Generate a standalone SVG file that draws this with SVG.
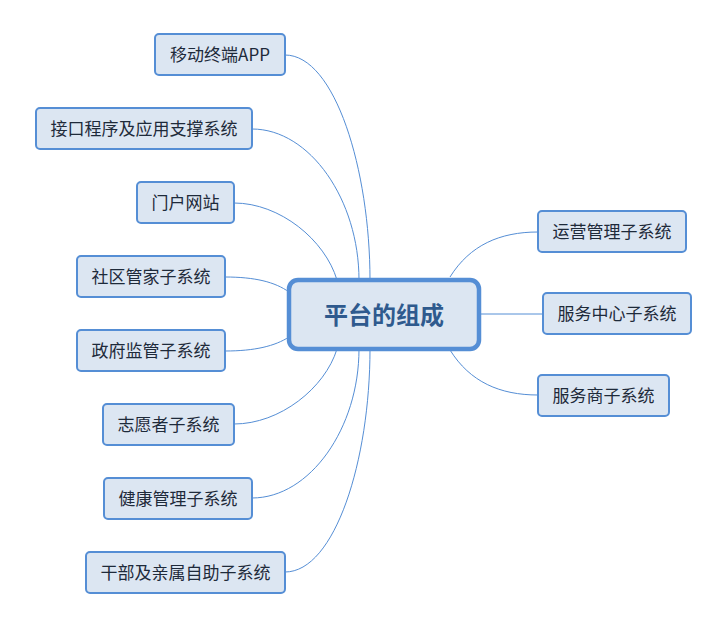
<svg xmlns="http://www.w3.org/2000/svg" width="728" height="622" viewBox="0 0 728 622">
<style>
.n rect{fill:#dce6f2;stroke:#558ed5;stroke-width:2}
.n text{font-family:"Noto Sans CJK SC","Liberation Sans",sans-serif;font-size:17px;fill:#1e2a3a;text-anchor:middle;dominant-baseline:central}
#root rect{stroke-width:4.5}
#root text{font-size:24px;font-weight:bold;fill:#2f5a8e}
.c path{fill:none;stroke:#558ed5;stroke-width:1}
</style>
<rect width="728" height="622" fill="#fff"/>
<g class="c">
<path d="M285,55 C335,55 370,170 370,280"/>
<path d="M252,129 C310,129 359,200 359,280"/>
<path d="M234,203 C280,203 325,240 337,280"/>
<path d="M225,277 C255,277 275,282 289,292"/>
<path d="M225,351 C255,351 275,346 289,337"/>
<path d="M234,424 C280,424 325,388 337,349"/>
<path d="M252,498 C310,498 359,428 359,349"/>
<path d="M285,572 C335,572 370,460 370,349"/>
<path d="M450,277 C470,245 500,232 538,232"/>
<path d="M479,314 L543,314"/>
<path d="M450,350 C470,382 500,395 538,395"/>
</g>
<g id="root" class="n"><rect x="289" y="280" width="190" height="69" rx="9"/><text x="384" y="313.5">平台的组成</text></g>
<g id="n1" class="n"><rect x="155" y="34" width="130" height="41" rx="4"/><text x="220" y="53.5">移动终端APP</text></g>
<g id="n2" class="n"><rect x="36" y="108" width="216" height="41" rx="4"/><text x="144" y="127.5">接口程序及应用支撑系统</text></g>
<g id="n3" class="n"><rect x="137" y="182" width="97" height="41" rx="4"/><text x="185.5" y="201.5">门户网站</text></g>
<g id="n4" class="n"><rect x="77" y="256" width="148" height="41" rx="4"/><text x="151" y="275.5">社区管家子系统</text></g>
<g id="n5" class="n"><rect x="77" y="330" width="148" height="41" rx="4"/><text x="151" y="349.5">政府监管子系统</text></g>
<g id="n6" class="n"><rect x="103" y="404" width="131" height="41" rx="4"/><text x="168.5" y="423.5">志愿者子系统</text></g>
<g id="n7" class="n"><rect x="104" y="478" width="148" height="41" rx="4"/><text x="178" y="497.5">健康管理子系统</text></g>
<g id="n8" class="n"><rect x="86" y="552" width="199" height="41" rx="4"/><text x="185.5" y="571.5">干部及亲属自助子系统</text></g>
<g id="n9" class="n"><rect x="538" y="211" width="148" height="41" rx="4"/><text x="612" y="230.5">运营管理子系统</text></g>
<g id="n10" class="n"><rect x="543" y="293" width="148" height="41" rx="4"/><text x="617" y="312.5">服务中心子系统</text></g>
<g id="n11" class="n"><rect x="538" y="375" width="131" height="41" rx="4"/><text x="603.5" y="394.5">服务商子系统</text></g>
</svg>
